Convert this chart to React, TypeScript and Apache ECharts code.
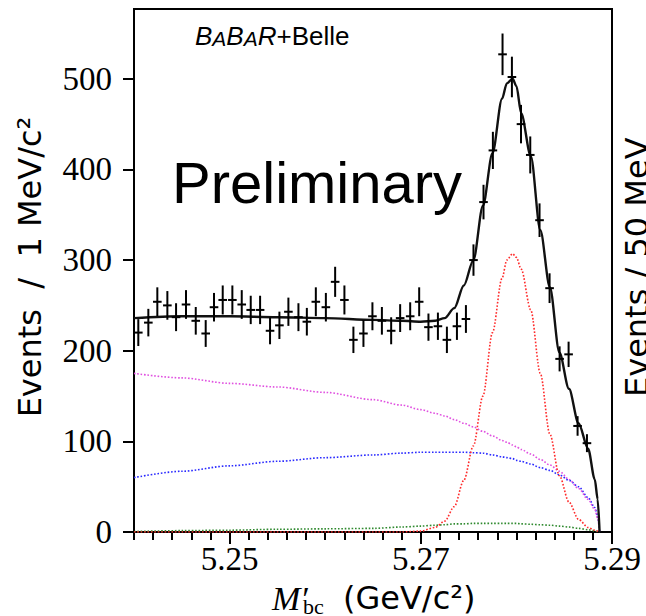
import React, { useEffect, useRef } from 'react';
import * as echarts from 'echarts';

// ---------- axis settings ----------
const X_MIN = 5.24;
const X_MAX = 5.29;
const Y_MIN = 0;
const Y_MAX = 577;
const X_TICK_LABELS = [5.25, 5.27, 5.29];
const Y_TICK_LABELS = [0, 100, 200, 300, 400, 500];

// ---------- data points (M'bc in GeV/c^2, events per bin) ----------
const dataMass = [
  5.24045, 5.2415, 5.24244, 5.24349, 5.2444, 5.24544, 5.24646, 5.2475, 5.24837, 5.24928,
  5.25029, 5.25127, 5.25221, 5.25319, 5.25423, 5.25521, 5.25615, 5.2572, 5.25808, 5.25902,
  5.26007, 5.26104, 5.26201, 5.26295, 5.264, 5.26494, 5.26593, 5.2669, 5.26784, 5.26889,
  5.26983, 5.2708, 5.27179, 5.27273, 5.27378, 5.27472, 5.27551, 5.27656, 5.27754, 5.27855,
  5.27953, 5.28048, 5.28145, 5.28242, 5.28347, 5.28452, 5.28546, 5.2864, 5.28738,
];
const dataCounts = [
  220, 231, 254, 250, 237, 251, 233, 219, 248, 256,
  256, 251, 245, 245, 222, 228, 243, 237, 232, 254,
  248, 276, 256, 212, 219, 238, 233, 222, 236, 238,
  254, 226, 227, 212, 227, 235, 300, 364, 421, 527,
  502, 450, 416, 344, 269, 191, 196, 117, 98,
];

// ---------- fit curves, read at these masses ----------
const fitMass = [
  5.24, 5.245, 5.25, 5.255, 5.26, 5.265, 5.268, 5.27, 5.2715, 5.2725,
  5.2735, 5.2745, 5.2755, 5.2765, 5.2775, 5.2785, 5.279, 5.2796, 5.28, 5.2805,
  5.2815, 5.2825, 5.2835, 5.2845, 5.2855, 5.2865, 5.2875, 5.2882, 5.2885, 5.2887,
];
const fitTotal = [
  236, 238, 238, 237, 236, 234, 233, 232, 233, 236,
  247, 272, 300, 360, 418, 478, 495, 500, 492, 462,
  415, 333, 270, 198, 158, 120, 92, 58, 36, 0,
];
const fitSignal = [
  0, 0, 0, 0, 0, 0, 0, 1, 5, 12,
  28, 57, 95, 150, 220, 280, 300, 307, 303, 290,
  245, 175, 108, 62, 33, 14, 5, 2, 1, 0,
];
const fitMagenta = [
  175, 170, 164, 160, 154, 146, 140, 135, 131, 128,
  124, 120, 116, 111, 106, 101, 99, 96, 94, 91,
  86, 80, 74, 67, 58, 48, 36, 25, 15, 0,
];
const fitBlue = [
  60, 67, 73, 78, 82, 85, 87, 88, 88, 88,
  88, 88, 87.5, 87, 85, 83, 82, 81, 79, 78,
  75, 71, 68, 63, 57, 50, 38, 27, 18, 0,
];
const fitGreen = [
  0.5, 1.5, 2, 3, 3.5, 4, 5.5, 6.5, 7.5, 8,
  9, 9, 9.5, 9.5, 9.5, 9.5, 9.5, 9.5, 9.5, 9,
  8.5, 8, 7.5, 6.5, 5.5, 4, 2.5, 1.2, 0.6, 0,
];

const SERIF = '"Liberation Serif", "DejaVu Serif", serif';
const SANS = '"DejaVu Sans", sans-serif';

function curveSeries(values: number[], color: string, width: number, dotted: boolean, z: number) {
  return {
    type: 'line',
    data: fitMass.map((m, i) => [m, values[i]]),
    showSymbol: false,
    symbol: 'none',
    smooth: 0.3,
    smoothMonotone: 'x',
    silent: true,
    z,
    lineStyle: {
      color,
      width,
      type: dotted ? [1.6, 1.8] : 'solid',
    },
  };
}

export default function App() {
  const ref = useRef<HTMLDivElement | null>(null);

  useEffect(() => {
    if (!ref.current) return;
    const chart = echarts.init(ref.current, undefined, { renderer: 'svg' });

    const pointData = dataMass.map((m, i) => [m, dataCounts[i], Math.sqrt(dataCounts[i])]);

    const option: any = {
      animation: false,
      backgroundColor: '#fff',
      grid: {
        left: 134,
        right: 34,
        top: 9,
        bottom: 84,
        show: true,
        borderColor: '#000',
        borderWidth: 2,
        backgroundColor: 'transparent',
        containLabel: false,
        outerBoundsMode: 'none',
      },
      xAxis: [
        {
          type: 'value',
          min: X_MIN,
          max: X_MAX,
          position: 'bottom',
          axisLine: { show: true, onZero: false, lineStyle: { color: '#000', width: 2 } },
          axisTick: {
            show: true,
            customValues: X_TICK_LABELS,
            length: 12,
            lineStyle: { color: '#000', width: 2 },
          },
          axisLabel: {
            customValues: X_TICK_LABELS,
            formatter: (v: number) => v.toFixed(2),
            fontFamily: SERIF,
            fontSize: 33,
            color: '#000',
            margin: 10,
          },
          splitLine: { show: false },
        },
        {
          type: 'value',
          min: X_MIN,
          max: X_MAX,
          interval: 0.002,
          position: 'bottom',
          axisLine: { show: false, onZero: false },
          axisTick: { show: true, length: 8, lineStyle: { color: '#000', width: 2 } },
          axisLabel: { show: false },
          splitLine: { show: false },
        },
      ],
      yAxis: {
        type: 'value',
        min: Y_MIN,
        max: Y_MAX,
        position: 'left',
        axisLine: { show: true, onZero: false, lineStyle: { color: '#000', width: 2 } },
        axisTick: {
          show: true,
          customValues: Y_TICK_LABELS,
          length: 11,
          lineStyle: { color: '#000', width: 2 },
        },
        axisLabel: {
          customValues: Y_TICK_LABELS,
          fontFamily: SERIF,
          fontSize: 33,
          color: '#000',
          margin: 22,
        },
        splitLine: { show: false },
      },
      series: [
        curveSeries(fitGreen, '#2f8a2f', 1.6, true, 2),
        curveSeries(fitBlue, '#2a2aff', 1.6, true, 2),
        curveSeries(fitMagenta, '#e050e0', 1.6, true, 2),
        curveSeries(fitSignal, '#ff2a2a', 1.6, true, 2),
        curveSeries(fitTotal, '#111', 2.4, false, 3),
        {
          type: 'custom',
          z: 4,
          silent: true,
          data: pointData,
          encode: { x: 0, y: 1 },
          renderItem: (params: any, api: any) => {
            const x = api.value(0);
            const y = api.value(1);
            const e = api.value(2);
            const top = api.coord([x, y + e]);
            const bot = api.coord([x, y - e]);
            const l = api.coord([x - 0.00045, y]);
            const r = api.coord([x + 0.00045, y]);
            const st = { stroke: '#000', lineWidth: 2 };
            return {
              type: 'group',
              children: [
                { type: 'line', shape: { x1: top[0], y1: top[1], x2: bot[0], y2: bot[1] }, style: st },
                { type: 'line', shape: { x1: l[0], y1: l[1], x2: r[0], y2: r[1] }, style: st },
              ],
            };
          },
        },
      ],
      graphic: [
        {
          type: 'text',
          x: 30,
          y: 267,
          rotation: Math.PI / 2,
          style: {
            text: 'Events  /  1 MeV/c²',
            fontFamily: SANS,
            fontSize: 32,
            fill: '#000',
            align: 'center',
            verticalAlign: 'middle',
          },
        },
        {
          type: 'text',
          x: 637,
          y: 397,
          rotation: Math.PI / 2,
          style: {
            text: 'Events / 50 MeV',
            fontFamily: SANS,
            fontSize: 32,
            fill: '#000',
            align: 'left',
            verticalAlign: 'middle',
          },
        },
        {
          type: 'text',
          x: 195,
          y: 36,
          style: {
            text: '{b|B}{a|A}{b|B}{a|A}{b|R}{n|+Belle}',
            align: 'left',
            verticalAlign: 'middle',
            fill: '#000',
            rich: {
              b: { fontFamily: '"Liberation Sans", sans-serif', fontStyle: 'italic', fontSize: 26, fill: '#000', verticalAlign: 'bottom' },
              a: { fontFamily: '"Liberation Sans", sans-serif', fontStyle: 'italic', fontSize: 21, fill: '#000', verticalAlign: 'bottom' },
              n: { fontFamily: '"Liberation Sans", sans-serif', fontSize: 26, fill: '#000', verticalAlign: 'bottom' },
            },
          },
        },
        {
          type: 'text',
          x: 172,
          y: 182,
          style: {
            text: 'Preliminary',
            fontFamily: '"Liberation Sans", sans-serif',
            fontSize: 58,
            fill: '#000',
            align: 'left',
            verticalAlign: 'middle',
          },
        },
        {
          type: 'text',
          x: 272,
          y: 598,
          style: {
            text: 'M′',
            fontFamily: SERIF,
            fontStyle: 'italic',
            fontSize: 34,
            fill: '#000',
            align: 'left',
            verticalAlign: 'middle',
          },
        },
        {
          type: 'text',
          x: 303,
          y: 606,
          style: {
            text: 'bc',
            fontFamily: SERIF,
            fontSize: 22,
            fill: '#000',
            align: 'left',
            verticalAlign: 'middle',
          },
        },
        {
          type: 'text',
          x: 343,
          y: 598,
          style: {
            text: '(GeV/c²)',
            fontFamily: SANS,
            fontSize: 32,
            fill: '#000',
            align: 'left',
            verticalAlign: 'middle',
          },
        },
      ],
    };

    chart.setOption(option);
    return () => {
      chart.dispose();
    };
  }, []);

  return (
    <div
      ref={ref}
      style={{ position: 'absolute', left: 0, top: 0, width: 646, height: 616, background: '#fff' }}
    />
  );
}
